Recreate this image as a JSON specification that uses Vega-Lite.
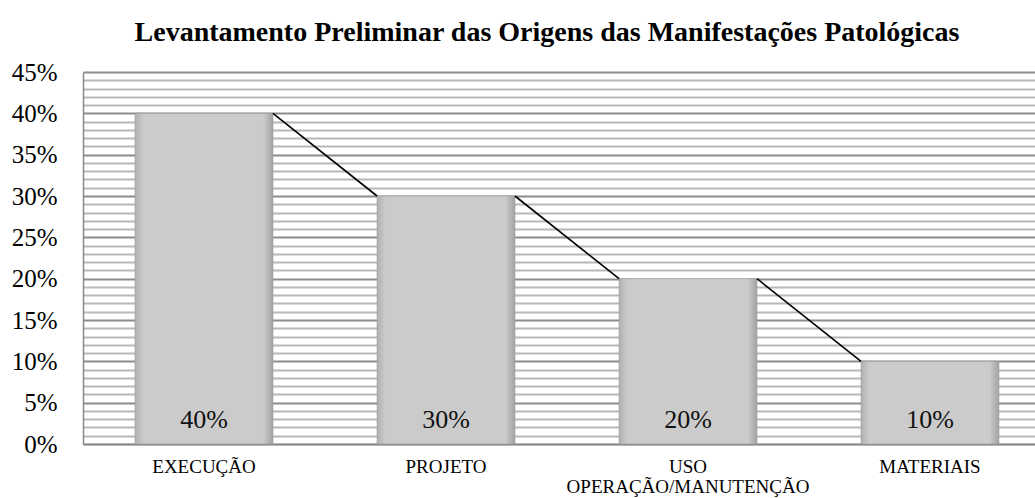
{
  "$schema": "https://vega.github.io/schema/vega-lite/v6.json",
  "width": 968,
  "height": 372,
  "autosize": "none",
  "padding": {"left": 83, "top": 72, "right": 0, "bottom": 54},
  "background": "white",
  "title": {
    "text": "Levantamento Preliminar das Origens das Manifestações Patológicas",
    "font": "Liberation Serif",
    "fontSize": 28,
    "fontWeight": "bold",
    "color": "black",
    "anchor": "middle",
    "dx": -20,
    "offset": 13
  },
  "config": {
    "view": {"stroke": null},
    "axis": {"labelFont": "Liberation Serif", "labelColor": "black"}
  },
  "datasets": {
    "bars": [
      {"cat": "EXECUÇÃO", "v": 0.40},
      {"cat": "PROJETO", "v": 0.30},
      {"cat": "USO OPERAÇÃO/MANUTENÇÃO", "v": 0.20},
      {"cat": "MATERIAIS", "v": 0.10}
    ],
    "links": [
      {"from": "EXECUÇÃO", "to": "PROJETO", "v1": 0.40, "v2": 0.30},
      {"from": "PROJETO", "to": "USO OPERAÇÃO/MANUTENÇÃO", "v1": 0.30, "v2": 0.20},
      {"from": "USO OPERAÇÃO/MANUTENÇÃO", "to": "MATERIAIS", "v1": 0.20, "v2": 0.10}
    ]
  },
  "layer": [
    {
      "data": {"name": "bars"},
      "mark": {
        "type": "bar",
        "stroke": "#9a9a9a",
        "strokeWidth": 0.6,
        "fill": {
          "gradient": "linear", "x1": 0, "y1": 0, "x2": 1, "y2": 0,
          "stops": [
            {"offset": 0, "color": "#b0b0b0"},
            {"offset": 0.06, "color": "#cbcbcb"},
            {"offset": 0.93, "color": "#cbcbcb"},
            {"offset": 1, "color": "#a2a2a2"}
          ]
        }
      },
      "encoding": {
        "x": {
          "field": "cat", "type": "nominal", "title": null,
          "scale": {
            "domain": ["EXECUÇÃO", "PROJETO", "USO OPERAÇÃO/MANUTENÇÃO", "MATERIAIS"],
            "paddingInner": 0.43, "paddingOuter": 0.215
          },
          "axis": {
            "labelAngle": 0, "labelFontSize": 19, "labelPadding": 13, "labelLineHeight": 20,
            "labelBaseline": "top", "labelLimit": 400,
            "ticks": false, "domainColor": "#8a8a8a", "domainWidth": 1.5,
            "labelExpr": "datum.label == 'USO OPERAÇÃO/MANUTENÇÃO' ? ['USO', 'OPERAÇÃO/MANUTENÇÃO'] : datum.label"
          }
        },
        "y": {
          "field": "v", "type": "quantitative", "title": null,
          "scale": {"domain": [0, 0.45], "nice": false},
          "axis": {
            "values": [0,0.01,0.02,0.03,0.04,0.05,0.06,0.07,0.08,0.09,0.1,0.11,0.12,0.13,0.14,0.15,0.16,0.17,0.18,0.19,0.2,0.21,0.22,0.23,0.24,0.25,0.26,0.27,0.28,0.29,0.3,0.31,0.32,0.33,0.34,0.35,0.36,0.37,0.38,0.39,0.4,0.41,0.42,0.43,0.44,0.45],
            "tickCount": 100,
            "labelOverlap": false,
            "labelExpr": "round(datum.value*100) % 5 == 0 ? format(datum.value, '.0%') : ''",
            "labelFontSize": 25, "labelPadding": 26, "ticks": false,
            "domainColor": "#8a8a8a", "domainWidth": 1.5,
            "grid": true, "gridWidth": 2,
            "gridColor": {"condition": {"test": "round(datum.value*100) % 5 == 0", "value": "#8c8c8c"}, "value": "#b8b8b8"}
          }
        }
      }
    },
    {
      "data": {"name": "bars"},
      "mark": {"type": "text", "font": "Liberation Serif", "fontSize": 26, "color": "#111", "baseline": "alphabetic", "dy": -16},
      "encoding": {
        "x": {"field": "cat", "type": "nominal"},
        "y": {"datum": 0, "type": "quantitative"},
        "text": {"field": "v", "type": "quantitative", "format": ".0%"}
      }
    },
    {
      "data": {"name": "links"},
      "mark": {"type": "rule", "color": "black", "strokeWidth": 1.6},
      "encoding": {
        "x": {"field": "from", "type": "nominal", "bandPosition": 1},
        "x2": {"field": "to", "bandPosition": 0},
        "y": {"field": "v1", "type": "quantitative"},
        "y2": {"field": "v2"}
      }
    }
  ]
}
